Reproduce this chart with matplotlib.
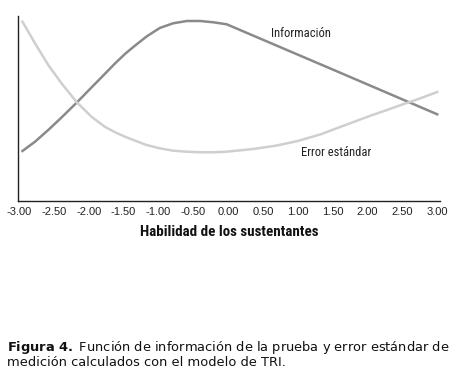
import matplotlib.pyplot as plt
from matplotlib import font_manager

# valores (unidades arbitrarias, el eje y no tiene escala)
habilidad_info = [-2.95, -2.77, -2.58, -2.39, -2.17, -1.96, -1.77, -1.62, -1.48, -1.36, -1.17,
                  -0.98, -0.79, -0.59, -0.40, -0.21, -0.02, 1.50, 3.00]
informacion = [5.0, 5.93, 7.1, 8.35, 9.85, 11.35, 12.7, 13.77, 14.7, 15.4, 16.45,
               17.3, 17.77, 18.0, 18.0, 17.87, 17.67, 13.15, 8.67]

habilidad_err = [-2.95, -2.77, -2.58, -2.39, -2.17, -1.96, -1.77, -1.62, -1.48, -1.36, -1.17,
                 -0.98, -0.79, -0.59, -0.40, -0.21, -0.02, 0.36, 0.70, 1.00, 1.32, 1.55,
                 1.80, 2.05, 2.28, 2.50, 2.75, 3.00]
error_estandar = [17.93, 15.77, 13.6, 11.77, 9.87, 8.43, 7.43, 6.87, 6.43, 6.1, 5.6,
                  5.27, 5.03, 4.93, 4.87, 4.87, 4.93, 5.2, 5.55, 6.0, 6.65, 7.25,
                  7.9, 8.55, 9.1, 9.65, 10.25, 10.9]

ticks = [-3.0, -2.5, -2.0, -1.5, -1.0, -0.5, 0.0, 0.5, 1.0, 1.5, 2.0, 2.5, 3.0]

# fuente angosta si existe, si no Liberation Sans
nombres = set(f.name for f in font_manager.fontManager.ttflist)
fuente = 'Liberation Sans'
for n in ['Liberation Sans Narrow', 'Arial Narrow', 'Roboto Condensed']:
    if n in nombres:
        fuente = n
        break

fig = plt.figure(figsize=(4.58, 3.79), dpi=100)
ax = fig.add_axes([18 / 458, 1 - 201 / 379, 422 / 458, 185 / 379])

ax.plot(habilidad_info, informacion, color='#8a8a8a', lw=1.8, solid_joinstyle='round')
ax.plot(habilidad_err, error_estandar, color='#cfcfcf', lw=1.8, solid_joinstyle='round')

ax.text(1.04, 16.75, 'Información', fontsize=9, family=fuente, ha='center', va='center', color='#222222')
ax.text(1.545, 4.85, 'Error estándar', fontsize=9, family=fuente, ha='center', va='center', color='#222222')

ax.set_xlim(-3.014, 3.04)
ax.set_ylim(0, 18.5)
ax.set_xticks(ticks)
ax.set_xticklabels(['%.2f' % t for t in ticks], family='Liberation Sans', fontsize=8, color='#222222')
ax.set_yticks([])
ax.tick_params(axis='x', length=0, pad=4)
for s in ['top', 'right']:
    ax.spines[s].set_visible(False)
for s in ['left', 'bottom']:
    ax.spines[s].set_color('#222222')
    ax.spines[s].set_linewidth(1)
ax.set_xlabel('Habilidad de los sustentantes', family=fuente, fontsize=10.8, fontweight='bold', labelpad=6, color='#111111')

plt.rcParams['mathtext.fontset'] = 'dejavusans'
fig.text(7 / 458, 1 - 347 / 379,
         r'$\mathbf{Figura\ 4.}$ Función de información de la prueba y error estándar de',
         fontsize=9.4, va='center', ha='left', color='#111111')
fig.text(7 / 458, 1 - 362 / 379,
         'medición calculados con el modelo de TRI.',
         fontsize=9.4, va='center', ha='left', color='#111111')

fig.savefig('out.png', dpi=100)
